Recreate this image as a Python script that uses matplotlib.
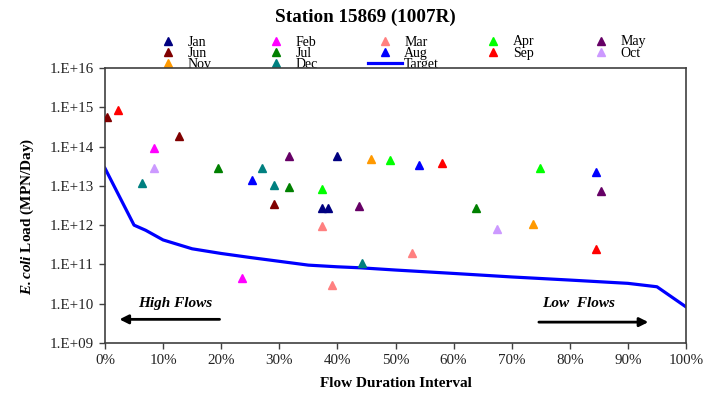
import matplotlib
matplotlib.use("Agg")
import matplotlib.pyplot as plt
from matplotlib.ticker import FixedLocator, FixedFormatter, NullLocator

plt.rcParams['font.family'] = ['Liberation Serif', 'DejaVu Serif']
plt.rcParams['mathtext.fontset'] = 'custom'
plt.rcParams['mathtext.rm'] = 'Liberation Serif'
plt.rcParams['mathtext.it'] = 'Liberation Serif:italic'
plt.rcParams['mathtext.bf'] = 'Liberation Serif:bold'
plt.rcParams['mathtext.bfit'] = 'Liberation Serif:italic:bold'

# ---- data ----
months = ["Jan", "Feb", "Mar", "Apr", "May", "Jun", "Jul", "Aug", "Sep", "Oct", "Nov", "Dec"]
colors = ["#000080", "#FF00FF", "#FF8080", "#00FF00", "#660066", "#800000",
          "#008000", "#0000FF", "#FF0000", "#CC99FF", "#FF9900", "#008080"]

jan_x = [37.3, 38.4, 40.0]
jan_y = [2.7e12, 2.7e12, 5.6e13]
feb_x = [8.4, 23.6]
feb_y = [9.0e13, 4.6e10]
mar_x = [37.3, 39.1, 52.9]
mar_y = [9.6e11, 3.0e10, 1.9e11]
apr_x = [37.3, 49.1, 74.9]
apr_y = [8.1e12, 4.6e13, 2.8e13]
may_x = [31.7, 43.8, 85.4]
may_y = [5.8e13, 3.1e12, 7.3e12]
jun_x = [0.3, 12.8, 29.1]
jun_y = [5.7e14, 1.9e14, 3.5e12]
jul_x = [19.4, 31.7, 63.8]
jul_y = [2.8e13, 9.4e12, 2.7e12]
aug_x = [25.3, 54.1, 84.5]
aug_y = [1.4e13, 3.4e13, 2.3e13]
sep_x = [2.3, 58.0, 84.5]
sep_y = [8.7e14, 3.8e13, 2.4e11]
oct_x = [8.4, 67.5]
oct_y = [2.9e13, 7.9e11]
nov_x = [45.8, 73.7]
nov_y = [4.8e13, 1.05e12]
dec_x = [6.4, 27.1, 29.1, 44.2]
dec_y = [1.17e13, 2.8e13, 1.05e13, 1.1e11]

target_x = [0, 5, 7, 10, 15, 20, 25, 30, 35, 40, 44, 50, 60, 70, 80, 90, 95, 100]
target_y = [2.8e13, 1.0e12, 7.4e11, 4.2e11, 2.5e11, 1.9e11, 1.5e11, 1.2e11, 9.6e10,
            8.7e10, 8.2e10, 7.2e10, 5.9e10, 4.8e10, 4.0e10, 3.3e10, 2.7e10, 8.3e9]

y_ticks = [1e9, 1e10, 1e11, 1e12, 1e13, 1e14, 1e15, 1e16]
y_ticklabels = ["1.E+09", "1.E+10", "1.E+11", "1.E+12", "1.E+13", "1.E+14", "1.E+15", "1.E+16"]
x_ticks = [0, 10, 20, 30, 40, 50, 60, 70, 80, 90, 100]
x_ticklabels = ["0%", "10%", "20%", "30%", "40%", "50%", "60%", "70%", "80%", "90%", "100%"]

series_x = [jan_x, feb_x, mar_x, apr_x, may_x, jun_x, jul_x, aug_x, sep_x, oct_x, nov_x, dec_x]
series_y = [jan_y, feb_y, mar_y, apr_y, may_y, jun_y, jul_y, aug_y, sep_y, oct_y, nov_y, dec_y]

# ---- figure ----
fig = plt.figure(figsize=(7.04, 3.94), dpi=100)
ax = fig.add_axes([105/704, 1-343/394, (686-105)/704, (343-68)/394])
ax.set_zorder(1)
ax.set_yscale('log')
ax.set_xlim(0, 100)
ax.set_ylim(1e9, 1e16)

handles = {}
for m, c, xs, ys in zip(months, colors, series_x, series_y):
    h, = ax.plot(xs, ys, linestyle='none', marker='^', markersize=6.3,
                 color=c, markeredgecolor=c, zorder=3)
    handles[m] = h
th, = ax.plot(target_x, target_y, color='#0000FF', linewidth=2.3, zorder=2)
handles["Target"] = th

ax.yaxis.set_major_locator(FixedLocator(y_ticks))
ax.yaxis.set_major_formatter(FixedFormatter(y_ticklabels))
ax.yaxis.set_minor_locator(NullLocator())
ax.xaxis.set_major_locator(FixedLocator(x_ticks))
ax.xaxis.set_major_formatter(FixedFormatter(x_ticklabels))
ax.tick_params(axis='both', direction='out', length=4, width=1, labelsize=10.8,
               color='#404040', labelcolor='#222222', pad=4)
for s in ax.spines.values():
    s.set_linewidth(1.2)
    s.set_color('#404040')

ax.set_xlabel("Flow Duration Interval", fontsize=11, fontweight='bold', labelpad=7)
ax.set_ylabel(r"$\mathbfit{E.coli}$ Load (MPN/Day)", fontsize=11, fontweight='bold')
ax.yaxis.set_label_coords((36-105)/581, 1-(216-68)/275)

# annotations
ax.text(12, 1.0e10, "High Flows", fontsize=11, fontweight='bold', style='italic',
        ha='center', va='center')
ax.annotate("", xy=(2.0, 4.0e9), xytext=(20.2, 4.0e9),
            arrowprops=dict(arrowstyle='-|>', color='black', lw=2, mutation_scale=13))
ax.text(81.5, 1.0e10, "Low  Flows", fontsize=11, fontweight='bold', style='italic',
        ha='center', va='center')
ax.annotate("", xy=(94.0, 3.4e9), xytext=(74.2, 3.4e9),
            arrowprops=dict(arrowstyle='-|>', color='black', lw=2, mutation_scale=13))

fig.text(365/704, 1-17/394, "Station 15869 (1007R)", fontsize=13.8, fontweight='bold',
         ha='center', va='center')

# legend: 5 columns with equal pitch
columns = [["Jan", "Jun", "Nov"], ["Feb", "Jul", "Dec"], ["Mar", "Aug", "Target"],
           ["Apr", "Sep"], ["May", "Oct"]]
col_left = [151, 259, 367.5, 476, 584]
for left, labs in zip(col_left, columns):
    leg = fig.legend([handles[l] for l in labs], labs, loc='upper left',
                     bbox_to_anchor=(left/704, 1-35.5/394), frameon=False,
                     fontsize=10, handlelength=2.5, handletextpad=0.15,
                     labelspacing=-0.14, borderpad=0, borderaxespad=0)
    leg.set_zorder(-1)

fig.savefig("out.png", dpi=100)
